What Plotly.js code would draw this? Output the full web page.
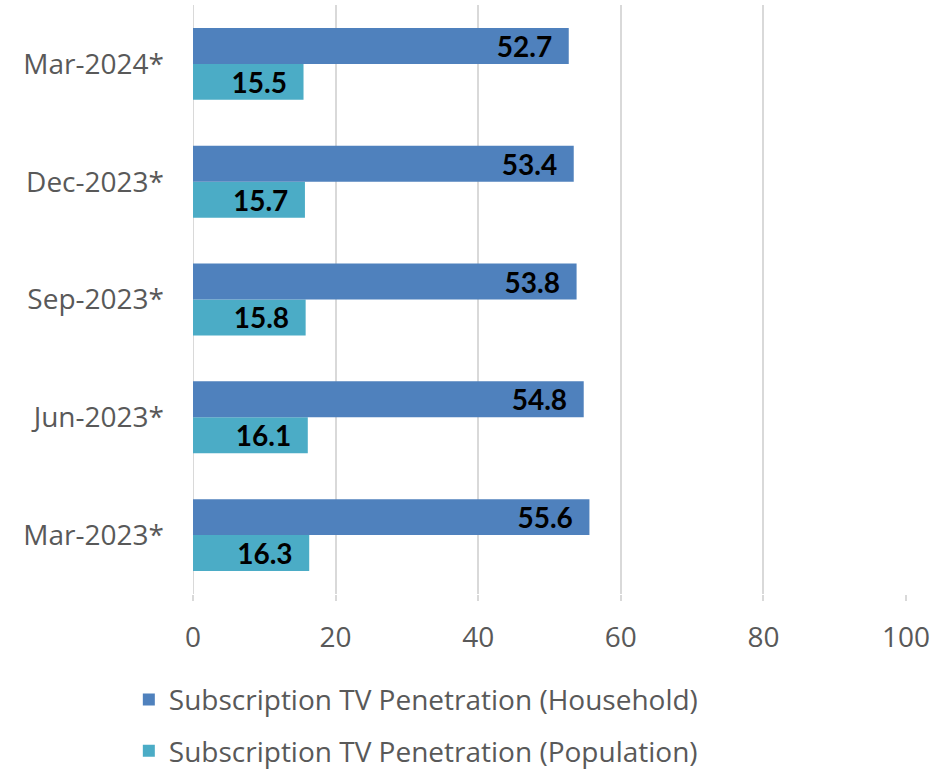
<!DOCTYPE html>
<html>
<head>
<meta charset="utf-8">
<script src="https://cdn.plot.ly/plotly-3.0.1.min.js"></script>
<style>html,body{margin:0;padding:0;background:#fff;}#chart{width:936px;height:773px;}</style>
</head>
<body>
<div id="chart"></div>
<script>
const categories = ["Mar-2023*", "Jun-2023*", "Sep-2023*", "Dec-2023*", "Mar-2024*"];
const household = [55.6, 54.8, 53.8, 53.4, 52.7];
const population = [16.3, 16.1, 15.8, 15.7, 15.5];
const seriesNames = ["Subscription TV Penetration (Household)", "Subscription TV Penetration (Population)"];
const xTicks = [0, 20, 40, 60, 80, 100];

const labelFont = {family: "Lato, 'Open Sans', sans-serif", size: 28, color: "#000000", weight: 700};

const traces = [
  {
    type: "bar", orientation: "h",
    name: seriesNames[1], legendgroup: "pop", legendrank: 2,
    y: categories, x: population,
    marker: {color: "#4BACC6"},
    text: population.map(v => v.toFixed(1)),
    texttemplate: "%{text}  ",
    textposition: "inside", insidetextanchor: "end",
    constraintext: "none",
    textfont: labelFont,
    hoverinfo: "skip"
  },
  {
    type: "bar", orientation: "h",
    name: seriesNames[0], legendgroup: "hh", legendrank: 1,
    y: categories, x: household,
    marker: {color: "#4F81BD"},
    text: household.map(v => v.toFixed(1)),
    texttemplate: "%{text}  ",
    textposition: "inside", insidetextanchor: "end",
    constraintext: "none",
    textfont: labelFont,
    hoverinfo: "skip"
  }
];

const layout = {
  width: 936, height: 773,
  margin: {l: 193, r: 30, t: 5, b: 179, autoexpand: false},
  paper_bgcolor: "#ffffff", plot_bgcolor: "#ffffff",
  barmode: "group", bargap: 0.39, bargroupgap: 0,
  font: {family: "'Open Sans', sans-serif", size: 28, color: "#595959"},
  xaxis: {
    range: [0, 100], tickvals: xTicks, ticktext: xTicks.map(String),
    showgrid: true, gridcolor: "#d9d9d9", gridwidth: 2,
    zeroline: false, showline: false,
    ticks: "outside", ticklen: 6, tickcolor: "#d9d9d9", tickwidth: 2,
    ticklabelstandoff: 12,
    tickfont: {size: 28, color: "#595959"},
    fixedrange: true
  },
  yaxis: {
    type: "category", categoryorder: "array", categoryarray: categories,
    showgrid: false, zeroline: false, showline: false, ticks: "",
    ticklabelstandoff: 28,
    tickfont: {size: 28, color: "#595959"},
    fixedrange: true
  },
  shapes: [
    {type: "line", xref: "x", yref: "paper", x0: 0, x1: 0, y0: 0, y1: 1, line: {color: "#d9d9d9", width: 2}, layer: "below"}
  ],
  showlegend: true,
  legend: {
    orientation: "v", traceorder: "grouped",
    x: -0.09, xanchor: "left", y: -0.137, yanchor: "top",
    font: {size: 28, color: "#595959"},
    tracegroupgap: 12, itemwidth: 30,
    bgcolor: "rgba(0,0,0,0)"
  }
};

Plotly.newPlot("chart", traces, layout, {displayModeBar: false, staticPlot: true});
</script>
</body>
</html>
